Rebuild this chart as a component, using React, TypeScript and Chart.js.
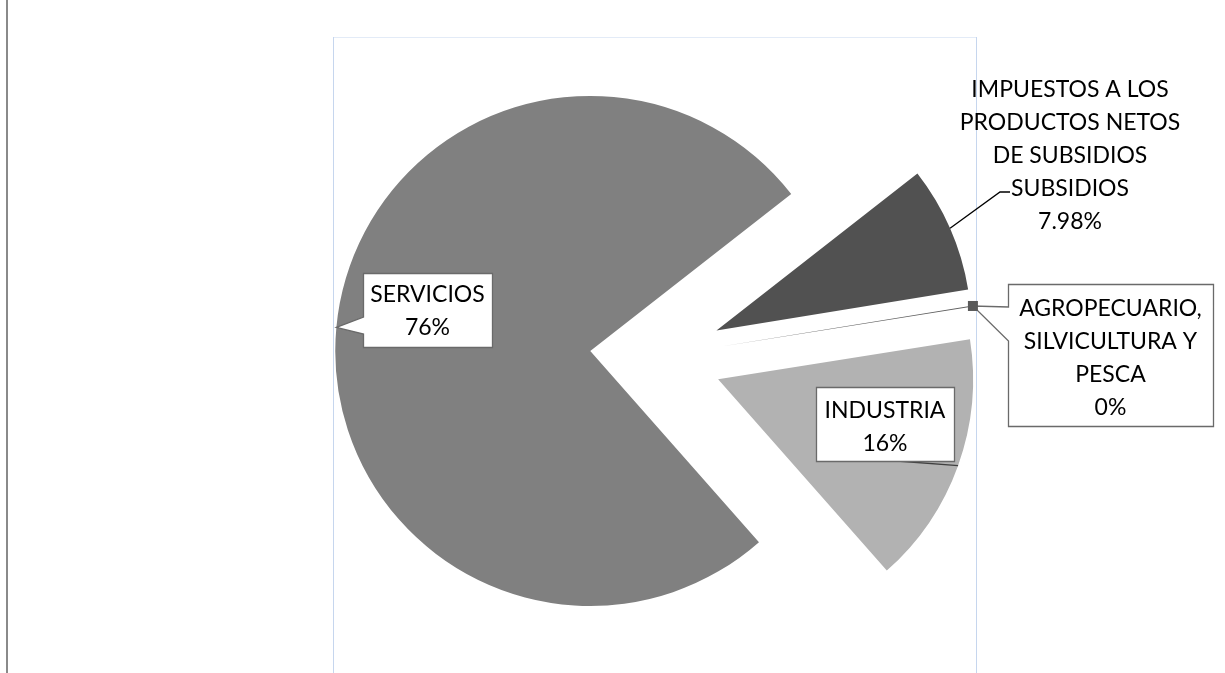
import React, { useEffect, useRef } from "react";
import { Chart, registerables } from "chart.js";

Chart.register(...registerables);

// ---- data ----
const categories = [
  "IMPUESTOS A LOS PRODUCTOS NETOS DE SUBSIDIOS SUBSIDIOS",
  "AGROPECUARIO, SILVICULTURA Y PESCA",
  "INDUSTRIA",
  "SERVICIOS",
];
const labelLines = [
  ["IMPUESTOS A LOS", "PRODUCTOS NETOS", "DE SUBSIDIOS", "SUBSIDIOS"],
  ["AGROPECUARIO,", "SILVICULTURA Y", "PESCA"],
  ["INDUSTRIA"],
  ["SERVICIOS"],
];
const values = [7.98, 0.07, 16.0, 75.95];
const percentDecimals = [2, 0, 0, 0];
const colors = ["#515151", "#5f5f5f", "#b2b2b2", "#808080"];

// ---- styling / layout ----
const W = 1225;
const H = 673;
const EXPLODE = 66;
const FONT = "23px Lato, 'Noto Sans', sans-serif";
const LINE = 33;

type Box = { x: number; y: number; w: number; h: number };
type LabelLayout = {
  cx: number;
  baseline: number;
  box?: Box;
  pointer?: [number, number]; // y range on box left edge for callout pointer
  leader?: [number, number][]; // extra leader points (from tip)
  marker?: boolean;
};
const layouts: LabelLayout[] = [
  { cx: 1070, baseline: 97, leader: [[1000, 192], [1010, 192]] },
  { cx: 1110.5, baseline: 316, box: { x: 1008.5, y: 284.5, w: 205, h: 142 }, pointer: [307, 341], marker: true },
  { cx: 885, baseline: 418, box: { x: 816.5, y: 387.5, w: 138, h: 74 }, leader: [[897, 461]] },
  { cx: 427.5, baseline: 302, box: { x: 363.5, y: 273.5, w: 129, h: 74 }, pointer: [317, 334] },
];

const total = values.reduce((a, b) => a + b, 0);
const pctText = (i: number) => ((values[i] / total) * 100).toFixed(percentDecimals[i]) + "%";

const explodePlugin = {
  id: "explode",
  afterUpdate(chart: any) {
    const meta = chart.getDatasetMeta(0);
    meta.data.forEach((arc: any) => {
      const mid = (arc.startAngle + arc.endAngle) / 2;
      arc.x += Math.cos(mid) * EXPLODE;
      arc.y += Math.sin(mid) * EXPLODE;
    });
  },
};

const framePlugin = {
  id: "frame",
  beforeDatasetsDraw(chart: any) {
    const ctx = chart.ctx;
    ctx.save();
    ctx.fillStyle = "#8a8a8a";
    ctx.fillRect(6, 0, 2, H);
    ctx.lineWidth = 1;
    ctx.strokeStyle = "#e3ebf7";
    ctx.beginPath();
    ctx.moveTo(333, 37.5);
    ctx.lineTo(977, 37.5);
    ctx.stroke();
    ctx.strokeStyle = "#c6d6ee";
    ctx.beginPath();
    ctx.moveTo(333.5, 37);
    ctx.lineTo(333.5, H);
    ctx.moveTo(976.5, 37);
    ctx.lineTo(976.5, H);
    ctx.stroke();
    ctx.restore();
  },
};

const labelPlugin = {
  id: "calloutLabels",
  afterDatasetsDraw(chart: any) {
    const ctx = chart.ctx;
    const meta = chart.getDatasetMeta(0);
    ctx.save();
    meta.data.forEach((arc: any, i: number) => {
      const L = layouts[i];
      const mid = (arc.startAngle + arc.endAngle) / 2;
      const R = arc.outerRadius;
      const tx = arc.x + Math.cos(mid) * R;
      const ty = arc.y + Math.sin(mid) * R;

      // leader line
      if (L.leader) {
        ctx.strokeStyle = i === 2 ? "#404040" : "#000000";
        ctx.lineWidth = 1.3;
        ctx.beginPath();
        ctx.moveTo(tx, ty);
        L.leader.forEach(([px, py]) => ctx.lineTo(px, py));
        ctx.stroke();
      }

      // box / callout
      if (L.box) {
        const b = L.box;
        ctx.beginPath();
        ctx.moveTo(b.x, b.y);
        ctx.lineTo(b.x + b.w, b.y);
        ctx.lineTo(b.x + b.w, b.y + b.h);
        ctx.lineTo(b.x, b.y + b.h);
        if (L.pointer) {
          ctx.lineTo(b.x, L.pointer[1]);
          ctx.lineTo(tx, ty);
          ctx.lineTo(b.x, L.pointer[0]);
        }
        ctx.closePath();
        ctx.fillStyle = "#ffffff";
        ctx.fill();
        ctx.strokeStyle = "#6a6a6a";
        ctx.lineWidth = 1.3;
        ctx.stroke();
      }

      if (L.marker) {
        ctx.fillStyle = "#595959";
        ctx.fillRect(tx - 5, ty - 5, 10, 10);
      }

      // text
      ctx.fillStyle = "#000000";
      ctx.font = FONT;
      ctx.textAlign = "center";
      ctx.textBaseline = "alphabetic";
      const lines = [...labelLines[i], pctText(i)];
      lines.forEach((t, k) => ctx.fillText(t, L.cx, L.baseline + k * LINE));
    });
    ctx.restore();
  },
};

export default function App() {
  const ref = useRef<HTMLCanvasElement | null>(null);
  useEffect(() => {
    if (!ref.current) return;
    const chart = new Chart(ref.current, {
      type: "pie",
      data: {
        labels: categories,
        datasets: [
          {
            data: values,
            backgroundColor: colors,
            borderWidth: 0,
          },
        ],
      },
      options: {
        responsive: false,
        animation: false,
        devicePixelRatio: 1,
        events: [],
        rotation: 52,
        radius: 255,
        layout: { padding: { left: 87, right: 0, top: 41, bottom: 0 } },
        plugins: {
          legend: { display: false },
          tooltip: { enabled: false },
        },
      } as any,
      plugins: [explodePlugin, framePlugin, labelPlugin],
    });
    return () => chart.destroy();
  }, []);

  return (
    <div style={{ position: "fixed", left: 0, top: 0, width: W, height: H, background: "#ffffff" }}>
      <canvas ref={ref} width={W} height={H} style={{ display: "block", width: W, height: H }} />
    </div>
  );
}
